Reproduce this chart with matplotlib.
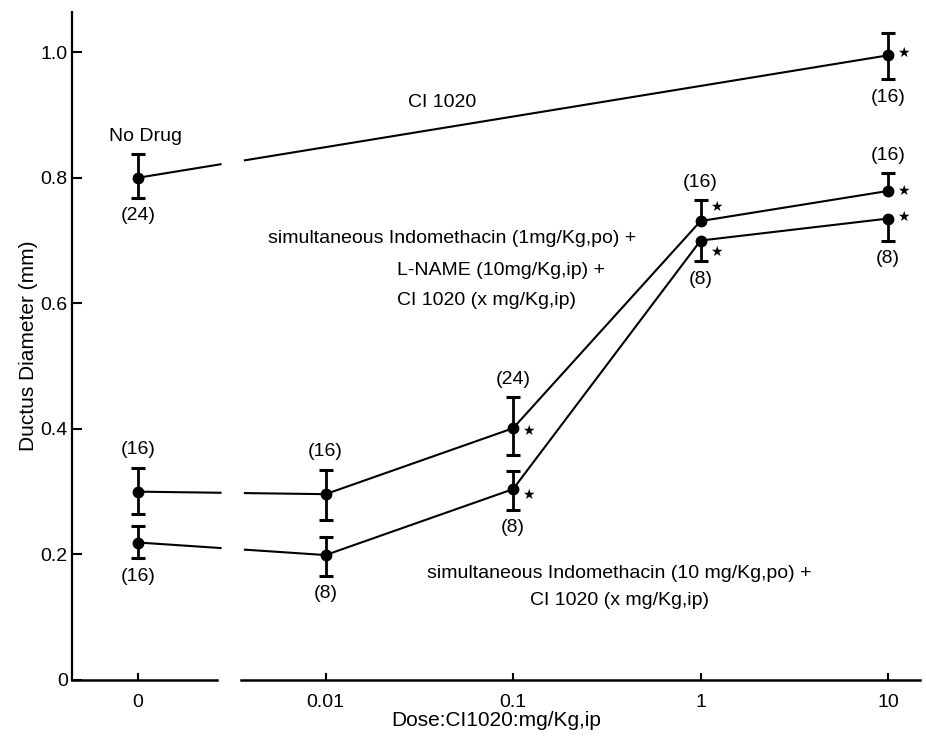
# Ductus-diameter mot dose CI 1020, gjenskapt med matplotlib
import numpy as np
import matplotlib
matplotlib.use("Agg")
import matplotlib.pyplot as plt

plt.rcParams['font.family'] = ['Liberation Sans', 'DejaVu Sans']

# doser (kategorier langs x-aksen)
dose_labels = ['0', '0.01', '0.1', '1', '10']
dose_pos = np.arange(len(dose_labels))

# No Drug -> CI 1020 alene (dose 0 og 10)
ci_x = [0, 4]
ci_y = [0.800, 0.995]
ci_up = [0.038, 0.036]
ci_low = [0.032, 0.038]
ci_n = ['(24)', '(16)']

# Indomethacin (1mg/Kg) + L-NAME + CI 1020
lname_y = [0.300, 0.296, 0.401, 0.731, 0.779]
lname_up = [0.038, 0.039, 0.049, 0.033, 0.028]
lname_low = [0.035, 0.041, 0.043, 0.0, 0.0]
lname_n = ['(16)', '(16)', '(24)', '(16)', '(16)']

# Indomethacin (10 mg/Kg) + CI 1020
indo_y = [0.219, 0.199, 0.304, 0.700, 0.735]
indo_up = [0.026, 0.028, 0.029, 0.0, 0.0]
indo_low = [0.025, 0.033, 0.033, 0.033, 0.035]
indo_n = ['(16)', '(8)', '(8)', '(8)', '(8)']

# signifikante punkter (stjerne)
ci_star = [1]
lname_star = [2, 3, 4]
indo_star = [2, 3, 4]

gap = (0.44, 0.57)   # brudd i aksen mellom 0 og 0.01
xmin, xmax = -0.352, 4.17

fig = plt.figure(figsize=(9.26, 7.36), dpi=100)
ax = fig.add_axes([72 / 926, 56 / 736, (920 - 72) / 926, (680 - 12) / 736])


def brudd(xs, ys):
    # legger inn et hull i linja der aksen er brutt
    xs = np.asarray(xs, float)
    ys = np.asarray(ys, float)
    ylo = np.interp(gap[0], xs, ys)
    yhi = np.interp(gap[1], xs, ys)
    xn = np.concatenate([xs[xs < gap[0]], [gap[0], np.nan, gap[1]], xs[xs > gap[1]]])
    yn = np.concatenate([ys[xs < gap[0]], [ylo, np.nan, yhi], ys[xs > gap[1]]])
    return xn, yn


def serie(xs, ys, up, low, n, stars, n_side, star_dy):
    xs = np.asarray(xs, float)
    ys = np.asarray(ys, float)
    bx, by = brudd(xs, ys)
    ax.plot(bx, by, color='black', lw=1.5, zorder=2)
    for i in range(len(xs)):
        top = ys[i] + up[i]
        bot = ys[i] - low[i]
        ax.plot([xs[i], xs[i]], [bot, top], color='black', lw=2, zorder=3)
        if up[i] > 0:
            ax.plot(xs[i], top, marker='_', ms=10, mew=2.2, color='black', zorder=3)
        if low[i] > 0:
            ax.plot(xs[i], bot, marker='_', ms=10, mew=2.2, color='black', zorder=3)
        if n_side[i] > 0:
            ax.annotate(n[i], (xs[i], top), xytext=(0, 13), textcoords='offset points',
                        ha='center', va='center', fontsize=14)
        else:
            ax.annotate(n[i], (xs[i], bot), xytext=(0, -13), textcoords='offset points',
                        ha='center', va='center', fontsize=14)
    ax.plot(xs, ys, 'o', color='black', ms=7.5, zorder=4)
    for i in stars:
        ax.annotate('★', (xs[i], ys[i]), xytext=(11, star_dy.get(i, 0)),
                    textcoords='offset points', ha='center', va='center',
                    fontsize=10, family=['DejaVu Sans'])


serie(ci_x, ci_y, ci_up, ci_low, ci_n, ci_star, [-1, -1], {1: 2})
serie(dose_pos, lname_y, lname_up, lname_low, lname_n, lname_star,
      [1, 1, 1, 1, 1], {2: -2, 3: 10})
serie(dose_pos, indo_y, indo_up, indo_low, indo_n, indo_star,
      [-1, -1, -1, -1, -1], {2: -4, 3: -8, 4: 1})

# tekster i figuren
ax.text(0.04, 0.865, 'No Drug', ha='center', va='center', fontsize=14)
ax.text(1.62, 0.92, 'CI 1020', ha='center', va='center', fontsize=14)
ax.text(0.693, 0.704, 'simultaneous Indomethacin (1mg/Kg,po) +', ha='left', va='center', fontsize=14)
ax.text(1.381, 0.653, 'L-NAME (10mg/Kg,ip) +', ha='left', va='center', fontsize=14)
ax.text(1.381, 0.605, 'CI 1020 (x mg/Kg,ip)', ha='left', va='center', fontsize=14)
ax.text(2.565, 0.170, 'simultaneous Indomethacin (10 mg/Kg,po) +', ha='center', va='center', fontsize=14)
ax.text(2.565, 0.127, 'CI 1020 (x mg/Kg,ip)', ha='center', va='center', fontsize=14)

# akser
ax.set_xlim(xmin, xmax)
ax.set_ylim(0, 1.064)
for s in ['top', 'right', 'bottom']:
    ax.spines[s].set_visible(False)
ax.spines['left'].set_linewidth(1.6)
ax.plot([xmin, gap[0] - 0.02], [0, 0], color='black', lw=1.8, clip_on=False)
ax.plot([gap[1] - 0.02, xmax], [0, 0], color='black', lw=1.8, clip_on=False)

ax.set_xticks(dose_pos)
ax.set_xticklabels(dose_labels, fontsize=14)
ax.set_yticks([0, 0.2, 0.4, 0.6, 0.8, 1.0])
ax.set_yticklabels(['0', '0.2', '0.4', '0.6', '0.8', '1.0'], fontsize=14)
ax.tick_params(axis='y', direction='in', length=7, width=1.5, pad=3)
ax.tick_params(axis='x', direction='in', length=5, width=1.5, pad=10)

ax.set_ylabel('Ductus Diameter (mm)', fontsize=15, family=['Liberation Sans Narrow', 'Liberation Sans'],
              labelpad=2)
ax.set_xlabel('Dose:CI1020:mg/Kg,ip', fontsize=15, family=['Liberation Sans Narrow', 'Liberation Sans'],
              labelpad=0)

fig.savefig('out.png', dpi=100)
